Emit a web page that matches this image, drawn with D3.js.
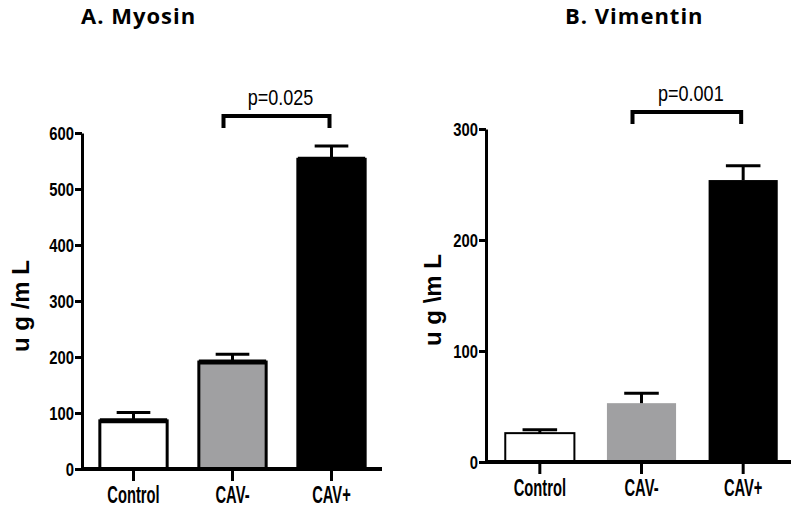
<!DOCTYPE html>
<html>
<head>
<meta charset="utf-8">
<script src="https://d3js.org/d3.v7.min.js"></script>
<style>
  body { margin: 0; background: #fff; }
  svg { display: block; }
  .title { font-family: "Open Sans", "DejaVu Sans", sans-serif; font-weight: 700; font-size: 22px; letter-spacing: 1px; }
  .narrow { font-family: "Liberation Sans", Arial, sans-serif; font-weight: 700; }
  .ylab { font-family: "Liberation Sans", Arial, sans-serif; font-weight: 700; font-size: 24px; }
</style>
</head>
<body>
<div id="chart"></div>
<script>
// groups on the x axis
var categories = ["Control", "CAV-", "CAV+"];

// A. Myosin (ug/mL): mean and SEM
var myosinMean = [86, 191, 553];
var myosinSem = [15, 14, 24];
var myosinTicks = [0, 100, 200, 300, 400, 500, 600];

// B. Vimentin (ug/mL): mean and SEM
var vimentinMean = [26, 53, 254];
var vimentinSem = [3, 9, 13];
var vimentinTicks = [0, 100, 200, 300];

var fills = ["#ffffff", "#a0a0a2", "#000000"];

var width = 800, height = 509;
var svg = d3.select("#chart").append("svg")
    .attr("width", width)
    .attr("height", height);

var panels = [
  { title: "A. Myosin", titleX: 81, ylab: "u g /m L", ylabX: 29, ylabY: 306,
    mean: myosinMean, sem: myosinSem, ticks: myosinTicks, ymax: 600,
    axisX: 82, axisEnd: 382, top: 133, bottom: 469, band: [84, 381],
    strokes: [3, 3, 3], topLine: 5, p: "p=0.025" },
  { title: "B. Vimentin", titleX: 565, ylab: "u g \\m L", ylabX: 441, ylabY: 300,
    mean: vimentinMean, sem: vimentinSem, ticks: vimentinTicks, ymax: 300,
    axisX: 486, axisEnd: 791, top: 129, bottom: 462, band: [489, 794],
    strokes: [2, 0, 0], topLine: 0, p: "p=0.001" }
];

panels.forEach(function(pn) {
  var g = svg.append("g");

  var y = d3.scaleLinear().domain([0, pn.ymax]).range([pn.bottom, pn.top]);
  var x = d3.scaleBand().domain(categories).range(pn.band)
      .paddingInner(0.32).paddingOuter(0.16);

  // title
  g.append("text").attr("class", "title")
      .attr("x", pn.titleX).attr("y", 24)
      .text(pn.title);

  // y label
  g.append("text").attr("class", "ylab")
      .attr("transform", "translate(" + pn.ylabX + "," + pn.ylabY + ") rotate(-90)")
      .attr("text-anchor", "middle")
      .text(pn.ylab);

  // bars
  g.selectAll("rect.bar")
    .data(pn.mean)
    .enter().append("rect")
      .attr("class", "bar")
      .attr("x", function(d, i) { return x(categories[i]); })
      .attr("y", function(d) { return y(d); })
      .attr("width", x.bandwidth())
      .attr("height", function(d) { return pn.bottom - y(d); })
      .attr("fill", function(d, i) { return fills[i]; })
      .attr("stroke", "#000")
      .attr("stroke-width", function(d, i) { return pn.strokes[i]; });

  // thick mean line on top of bars
  if (pn.topLine) {
    g.selectAll("line.mean")
      .data(pn.mean)
      .enter().append("line")
        .attr("x1", function(d, i) { return x(categories[i]); })
        .attr("x2", function(d, i) { return x(categories[i]) + x.bandwidth(); })
        .attr("y1", function(d) { return y(d); })
        .attr("y2", function(d) { return y(d); })
        .attr("stroke", "#000")
        .attr("stroke-width", pn.topLine);
  }

  // error bars (upper only)
  pn.mean.forEach(function(m, i) {
    var cx = x(categories[i]) + x.bandwidth() / 2;
    var cw = x.bandwidth() / 2;
    g.append("line")
        .attr("x1", cx).attr("x2", cx)
        .attr("y1", y(m)).attr("y2", y(m + pn.sem[i]))
        .attr("stroke", "#000").attr("stroke-width", 3);
    g.append("line")
        .attr("x1", cx - cw / 2).attr("x2", cx + cw / 2)
        .attr("y1", y(m + pn.sem[i])).attr("y2", y(m + pn.sem[i]))
        .attr("stroke", "#000").attr("stroke-width", 3);
  });

  // y axis
  var yAxis = g.append("g")
      .attr("transform", "translate(" + pn.axisX + ",0)")
      .call(d3.axisLeft(y).tickValues(pn.ticks).tickSize(7).tickSizeOuter(0));
  yAxis.select(".domain").attr("stroke-width", 3);
  yAxis.selectAll(".tick line").attr("stroke-width", 3);
  yAxis.selectAll(".tick text")
      .attr("class", "narrow")
      .style("font-size", "19px")
      .attr("x", -8 / 0.78)
      .attr("transform", "scale(0.78,1)");

  // x axis
  var xAxis = g.append("g")
      .attr("transform", "translate(0," + pn.bottom + ")")
      .call(d3.axisBottom(x).tickSize(12).tickSizeOuter(0));
  xAxis.select(".domain").remove();
  xAxis.append("line")
      .attr("x1", pn.axisX - 1).attr("x2", pn.axisEnd)
      .attr("stroke", "#000").attr("stroke-width", 4);
  xAxis.selectAll(".tick line").attr("stroke-width", 3);
  xAxis.selectAll(".tick text")
      .attr("class", "narrow")
      .style("font-size", "23px")
      .attr("y", 34)
      .attr("dy", 0)
      .attr("transform", "scale(0.64,1)");

  // significance bracket between CAV- and CAV+
  var bx1 = x("CAV-") + x.bandwidth() / 2 - 9;
  var bx2 = x("CAV+") + x.bandwidth() / 2 - 2;
  var by = pn.top - 17;
  g.append("path")
      .attr("d", "M" + bx1 + "," + (by + 12) + "V" + by + "H" + bx2 + "V" + (by + 12))
      .attr("fill", "none")
      .attr("stroke", "#000")
      .attr("stroke-width", 4);
  g.append("text")
      .attr("transform", "translate(" + ((bx1 + bx2) / 2 + 4) + "," + (by - 11) + ") scale(0.82,1)")
      .attr("text-anchor", "middle")
      .style("font-family", "'Liberation Sans', Arial, sans-serif")
      .style("font-size", "22px")
      .text(pn.p);
});
</script>
</body>
</html>
